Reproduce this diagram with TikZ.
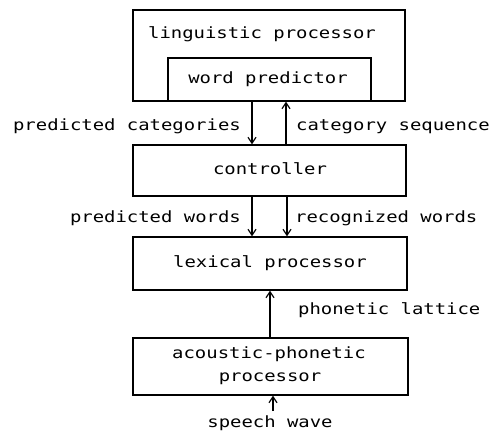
\documentclass[tikz,border=0pt]{standalone}
\usepackage{fontspec}
\newfontfamily\dm[FakeStretch=1.22]{DejaVu Sans Mono}
\usetikzlibrary{arrows.meta}
\begin{document}
\begin{tikzpicture}[x=1pt,y=-1pt,
  box/.style={draw,line width=1.4pt,inner sep=0pt},
  lbl/.style={font=\dm\fontsize{15.5}{19}\selectfont,inner sep=0pt,text depth=0pt},
  arr/.style={line width=1.3pt,-{Straight Barb[length=6pt,width=8pt,line width=1.2pt]}}]
\useasboundingbox (0,0) rectangle (492,433);
\node[box,minimum width=272pt,minimum height=91pt] (ling) at (269,55.5) {};
\node[lbl] (lingt) at (262,33) {linguistic processor};
\node[box,minimum width=203pt,minimum height=43pt] (wp) at (269.5,79.5) {};
\node[lbl] (wpt) at (268,78) {word predictor};
\node[box,minimum width=273pt,minimum height=51pt] (ctrl) at (269.5,170.5) {};
\node[lbl] (ctrlt) at (270,169) {controller};
\node[box,minimum width=274pt,minimum height=53pt] (lex) at (270,263.5) {};
\node[lbl] (lext) at (270,262) {lexical processor};
\node[box,minimum width=275pt,minimum height=57pt] (ap) at (270.5,366.5) {};
\node[lbl] (apt1) at (269,353) {acoustic-phonetic};
\node[lbl] (apt2) at (270,377) {processor};
\draw[arr] ([xshift=-17.5pt]wp.south) -- ([xshift=-17.5pt]ctrl.north);
\draw[arr] ([xshift=16.5pt]ctrl.north) -- ([xshift=16.5pt]wp.south);
\draw[arr] ([xshift=-17.5pt]ctrl.south) -- ([xshift=-18pt]lex.north);
\draw[arr] ([xshift=17.5pt]ctrl.south) -- ([xshift=17pt]lex.north) ;
\draw[arr] (lex.south |- ap.north) -- (lex.south);
\coordinate (sw) at (273,411);
\draw[arr] (sw) -- (ap.south -| sw);
\node[lbl,anchor=east] (pc) at (241,125) {predicted categories};
\node[lbl,anchor=west] (cs) at (296,125) {category sequence};
\node[lbl,anchor=east] (pw) at (241,217) {predicted words};
\node[lbl,anchor=west] (rw) at (295,217) {recognized words};
\node[lbl,anchor=west] (pl) at (298,309) {phonetic lattice};
\node[lbl] (swt) at (270,422) {speech wave};
\end{tikzpicture}
\end{document}
